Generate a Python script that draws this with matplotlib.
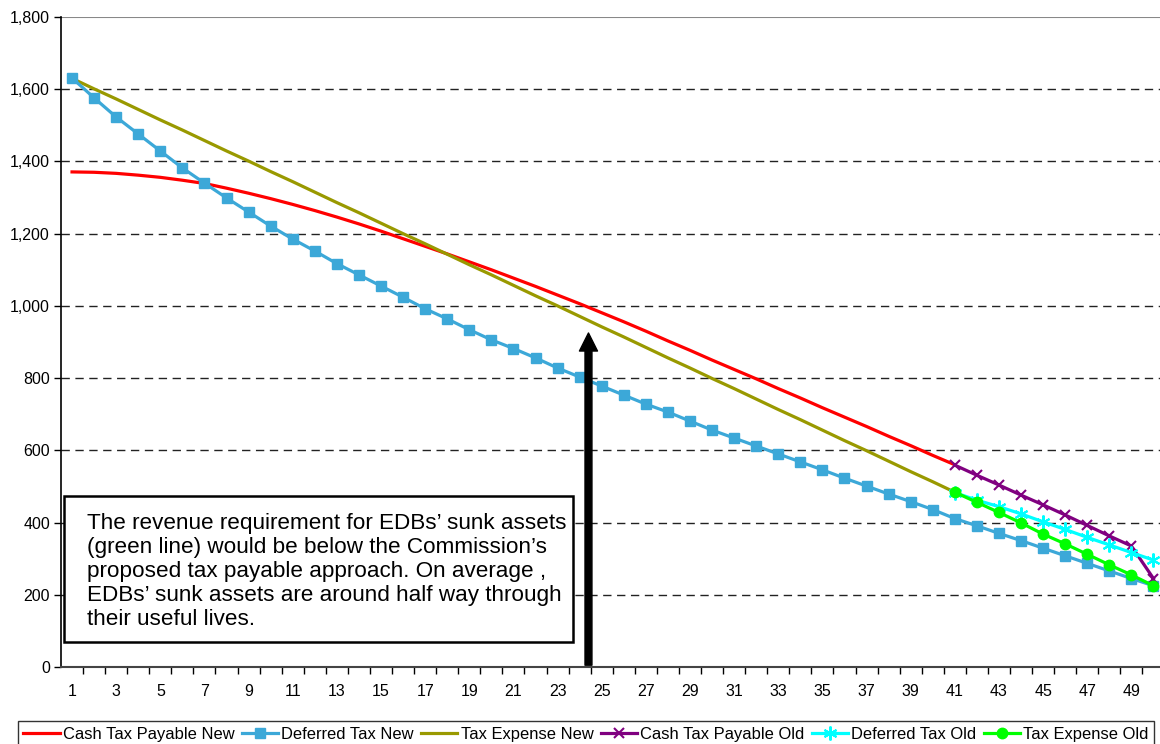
import matplotlib
matplotlib.use("Agg")
import matplotlib.pyplot as plt
from matplotlib.patches import Rectangle
from matplotlib.ticker import FuncFormatter, FixedLocator

plt.rcParams['font.family'] = ['Liberation Sans', 'DejaVu Sans']

categories = list(range(1, 51))

cash_tax_new = [1371, 1370, 1367, 1362, 1356, 1348, 1339, 1326, 1312, 1297,
                1281, 1264, 1246, 1227, 1207, 1186, 1165, 1144, 1122, 1100,
                1077, 1054, 1030, 1006, 981, 956, 930, 903, 877, 850,
                824, 798, 771, 745, 718, 692, 666, 639, 613, 586, 560]

deferred_tax_new = [1631, 1576, 1523, 1476, 1429, 1382, 1340, 1299, 1260, 1221,
                    1185, 1152, 1117, 1086, 1055, 1024, 992, 964, 934, 906,
                    882, 856, 828, 803, 778, 753, 728, 706, 681, 656,
                    634, 612, 590, 568, 546, 523, 501, 479, 458, 436,
                    411, 391, 370, 350, 329, 308, 287, 266, 245, 225]

tax_expense_new = [1630, 1601, 1573, 1544, 1515, 1487, 1458, 1429, 1401, 1372,
                   1344, 1315, 1286, 1258, 1229, 1200, 1172, 1143, 1114, 1086,
                   1057, 1028, 1000, 971, 942, 914, 885, 856, 828, 799,
                   771, 742, 713, 685, 656, 627, 599, 570, 541, 513, 484]

old_categories = list(range(41, 51))
cash_tax_old = [559, 531, 504, 476, 449, 421, 392, 363, 335, 245]
deferred_tax_old = [483, 462, 444, 424, 402, 381, 359, 338, 317, 296]
tax_expense_old = [484, 456, 428, 399, 368, 341, 312, 283, 255, 225]

series_names = ["Cash Tax Payable New", "Deferred Tax New", "Tax Expense New",
                "Cash Tax Payable Old", "Deferred Tax Old", "Tax Expense Old"]

x_labels = [str(c) for c in categories if c % 2 == 1]
y_ticks = [0, 200, 400, 600, 800, 1000, 1200, 1400, 1600, 1800]

arrow_x = 24.4
arrow_y_start = 5
arrow_y_end = 925

note = ("The revenue requirement for EDBs\u2019 sunk assets\n"
        "(green line) would be below the Commission\u2019s\n"
        "proposed tax payable approach. On average ,\n"
        "EDBs\u2019 sunk assets are around half way through\n"
        "their useful lives.")

W, H = 1160, 744
fig = plt.figure(figsize=(W / 100, H / 100), dpi=100)
ax = fig.add_axes([61 / W, (H - 667) / H, (1164.5 - 61) / W, (667 - 17) / H])

lw = 2.3
ax.plot(categories[:len(cash_tax_new)], cash_tax_new, color='#FF0000', lw=lw,
        label=series_names[0], zorder=3)
ax.plot(categories, deferred_tax_new, color='#3CA8D8', lw=lw, marker='s', ms=7,
        label=series_names[1], zorder=4)
ax.plot(categories[:len(tax_expense_new)], tax_expense_new, color='#999900', lw=lw,
        label=series_names[2], zorder=3)
ax.plot(old_categories, cash_tax_old, color='#800080', lw=lw, marker='x', ms=7,
        mew=1.5, label=series_names[3], zorder=5)
ax.plot(old_categories, deferred_tax_old, color='#00FFFF', lw=lw, marker=(6, 2, 0),
        ms=10, mew=1.5, label=series_names[4], zorder=6)
ax.plot(old_categories, tax_expense_old, color='#00FF00', lw=lw, marker='o', ms=7.5,
        label=series_names[5], zorder=7)

ax.set_xlim(0.5, 50.5)
ax.set_ylim(0, 1800)

# y axis
ax.set_yticks(y_ticks)
ax.yaxis.set_major_formatter(FuncFormatter(lambda v, p: f"{int(v):,}"))
ax.tick_params(axis='y', direction='out', length=5, width=1, labelsize=11.5,
               pad=3, colors='black')

# x axis: tick marks at category boundaries, labels at odd categories
ax.xaxis.set_major_locator(FixedLocator([c + 0.5 for c in categories]))
ax.xaxis.set_major_formatter(FuncFormatter(lambda v, p: ""))
ax.xaxis.set_minor_locator(FixedLocator([c for c in categories if c % 2 == 1]))
ax.set_xticklabels(x_labels, minor=True)
ax.tick_params(axis='x', which='major', direction='out', length=5, width=1,
               color='black')
ax.tick_params(axis='x', which='minor', length=0, labelsize=11.5, pad=12)

for v in y_ticks[1:-1]:
    ax.axhline(v, color='#222222', lw=1.0, ls=(0, (6, 4)), zorder=1)
ax.axhline(1800, color='#888888', lw=1.5, zorder=1)

ax.spines['top'].set_visible(False)
ax.spines['right'].set_visible(False)
ax.spines['left'].set_color('black')
ax.spines['left'].set_linewidth(1.2)
ax.spines['bottom'].set_color('#444444')
ax.spines['bottom'].set_linewidth(1.5)

# arrow
ax.annotate("", xy=(arrow_x, arrow_y_end), xytext=(arrow_x, arrow_y_start),
            arrowprops=dict(width=5, headwidth=13, headlength=13,
                            facecolor='black', edgecolor='black'), zorder=8)

# text box
rect = Rectangle((64 / W, (H - 642) / H), (573 - 64) / W, (642 - 496) / H,
                 transform=fig.transFigure, facecolor='white', edgecolor='black',
                 lw=1.8, zorder=9)
fig.patches.append(rect)
fig.text(87 / W, (H - 512.5) / H, note, fontsize=16.2, va='top', ha='left',
         linespacing=1.2, zorder=10)

leg = fig.legend(loc='upper center', bbox_to_anchor=(586 / W, (H - 721) / H),
                 ncol=6, fontsize=11.9, frameon=True, fancybox=False,
                 edgecolor='black', handlelength=2.2, handletextpad=0.2,
                 columnspacing=0.43, borderpad=0.35, borderaxespad=0)
leg.get_frame().set_linewidth(1.0)

fig.savefig("out.png", dpi=100)
